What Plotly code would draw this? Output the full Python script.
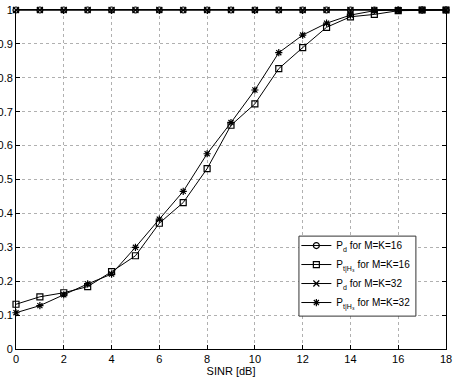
import plotly.graph_objects as go

sinr = list(range(0, 19))
pd16 = [1.0] * 19
pt16 = [0.132, 0.154, 0.166, 0.184, 0.228, 0.275, 0.371, 0.432, 0.532, 0.660, 0.723,
        0.827, 0.889, 0.949, 0.980, 0.987, 0.998, 1.0, 1.0]
pd32 = [1.0] * 19
pt32 = [0.107, 0.128, 0.160, 0.192, 0.221, 0.300, 0.383, 0.465, 0.576, 0.668, 0.764,
        0.874, 0.926, 0.961, 0.985, 0.998, 1.0, 1.0, 1.0]

names = ["P<sub>d</sub> for M=K=16",
         "P<sub>t|H₃</sub> for M=K=16",
         "P<sub>d</sub> for M=K=32",
         "P<sub>t|H₃</sub> for M=K=32"]
series = [pd16, pt16, pd32, pt32]
symbols = ["circle-open", "square-open", "x-thin-open", "asterisk-open"]

x_ticks = list(range(0, 19, 2))
y_ticks = [i / 10 for i in range(11)]
y_labels = ["0", "0.1", "0.2", "0.3", "0.4", "0.5", "0.6", "0.7", "0.8", "0.9", "1"]

fig = go.Figure()
for nm, ys, sym in zip(names, series, symbols):
    fig.add_trace(go.Scatter(
        x=sinr, y=ys, name=nm, mode="lines+markers",
        line=dict(color="black", width=1),
        marker=dict(symbol=sym, size=6, color="black",
                    line=dict(color="black", width=1.2)),
        cliponaxis=False,
    ))

axis_common = dict(
    showline=True, linecolor="black", linewidth=1, mirror="ticks",
    ticks="inside", ticklen=4, tickcolor="black",
    showgrid=True, gridcolor="#b0b0b0", griddash="dot", gridwidth=1,
    zeroline=False, automargin=False,
    tickfont=dict(family="Liberation Sans, Arial", size=11, color="black"),
)

# legend frame (white box with dark border)
fig.add_shape(type="rect", xref="paper", yref="paper",
              x0=0.658, x1=0.930, y0=0.097, y1=0.333,
              fillcolor="white", line=dict(color="#333", width=1), layer="above")

fig.update_layout(
    width=457, height=377,
    margin=dict(l=16, r=11, t=10, b=28),
    paper_bgcolor="white", plot_bgcolor="white",
    font=dict(family="Liberation Sans, Arial", size=11, color="black"),
    xaxis=dict(range=[0, 18], tickvals=x_ticks, ticktext=[str(v) for v in x_ticks],
               title=dict(text="SINR [dB]", standoff=0, font=dict(size=11)),
               ticklabelstandoff=0, **axis_common),
    yaxis=dict(range=[0, 1], tickvals=y_ticks, ticktext=y_labels,
               ticklabelstandoff=0, **axis_common),
    legend=dict(x=0.652, y=0.348, xanchor="left", yanchor="top",
                bgcolor="rgba(0,0,0,0)", borderwidth=0,
                font=dict(size=10), tracegroupgap=0, itemwidth=30),
    showlegend=True,
)

fig.write_html("out.html", config={"displayModeBar": False},
               post_script="document.body.style.margin='0';document.body.style.overflow='hidden';")
